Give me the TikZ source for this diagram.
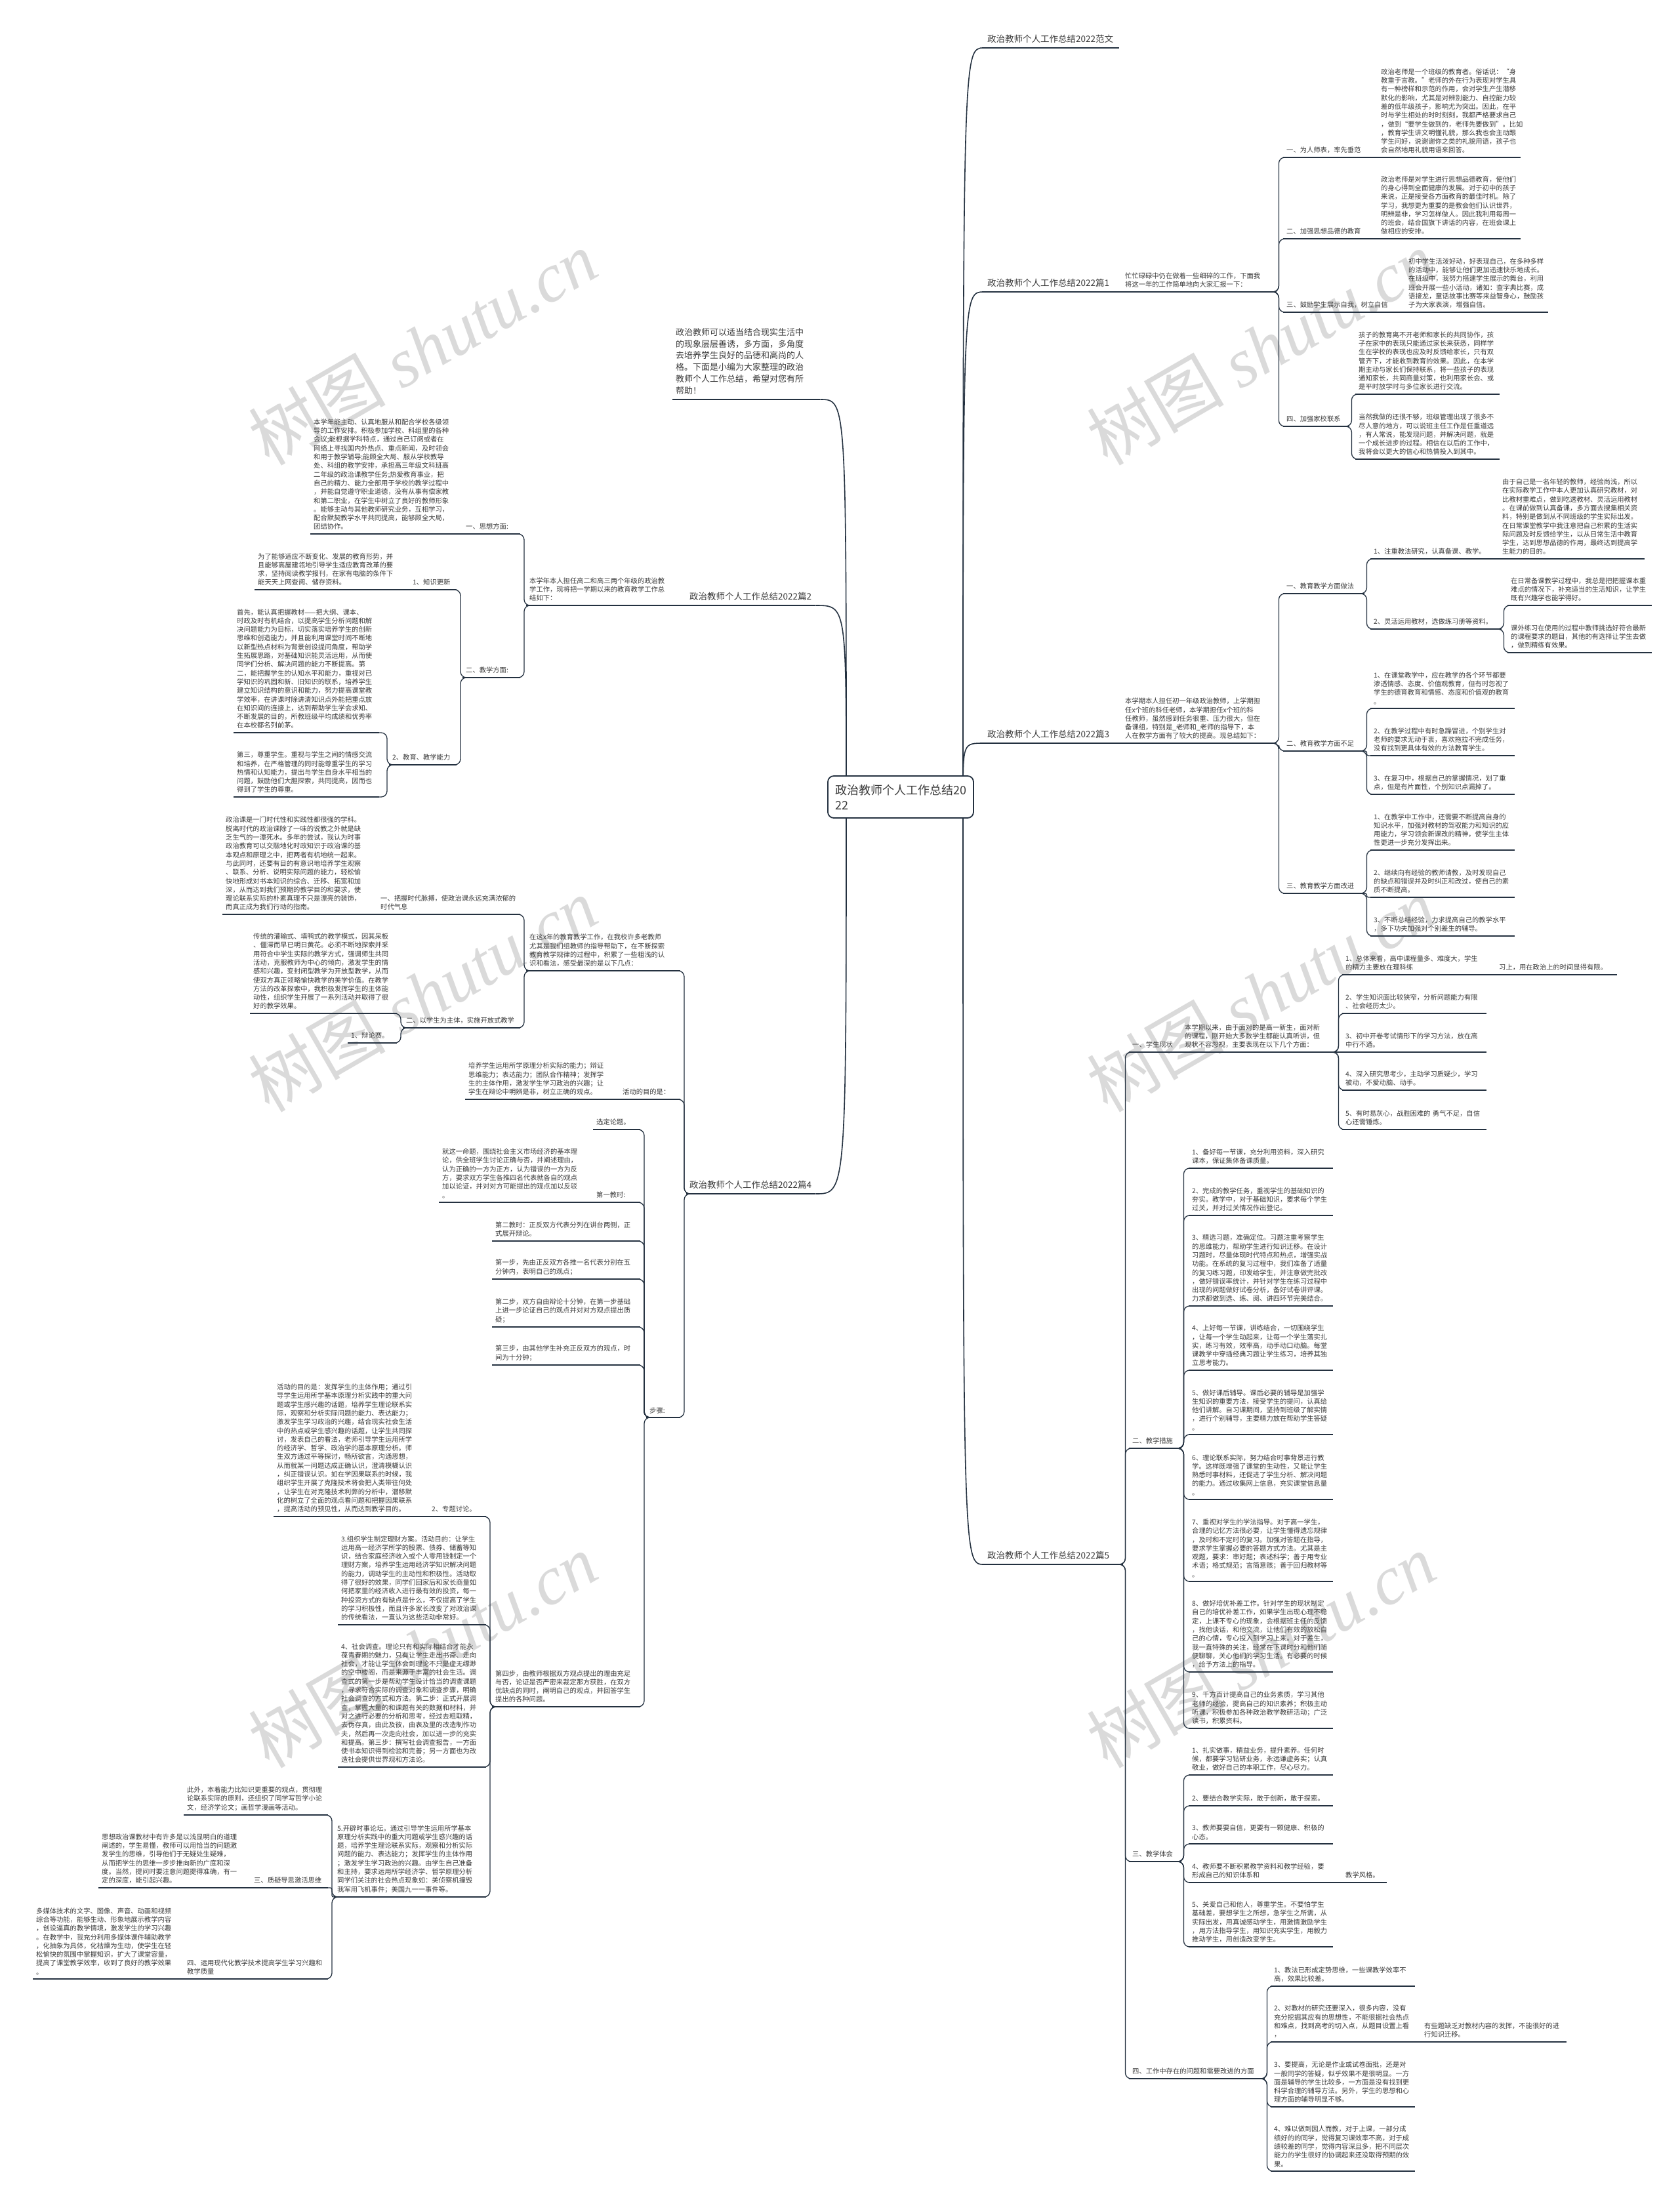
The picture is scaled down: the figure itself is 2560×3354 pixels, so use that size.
\documentclass[tikz,border=0pt]{standalone}
\usepackage{fontspec}
\setmainfont{Noto Sans CJK SC}
\newfontfamily\wmf{Liberation Serif}
\definecolor{linec}{HTML}{243140}
\definecolor{txtc}{HTML}{3A3A3A}
\definecolor{wmc}{HTML}{DADADA}
\newcommand\nd[6][bt]{\node[#1,text width=#5pt] (#2) at (#3,#4) {#6};}
\newcommand\rc[2]{\draw[conn] (#1.south east) to[rcp] (#2.south west);}
\newcommand\rcs[2]{\draw[conn,rounded corners=2.5pt] (#1.south east) to[rcp] (#2.south west);}
\newcommand\lc[2]{\draw[conn] (#1.south west) to[lcp] (#2.south east);}
\newcommand\lcs[2]{\draw[conn,rounded corners=2.5pt] (#1.south west) to[lcp] (#2.south east);}
\newcommand\st[2]{\draw[uln] (#1.south east) -- (#2.south west);}
\begin{document}
\begin{tikzpicture}[x=1pt,y=-1pt,
 bt/.style={anchor=south west,align=left,inner xsep=5pt,inner ysep=6pt,font=\fontsize{10.3}{13.3}\selectfont,text=txtc},
 bl/.style={bt,inner ysep=7pt,font=\fontsize{13.5}{17}\selectfont},
 bi/.style={bt,inner ysep=7.5pt,font=\fontsize{13}{17.8}\selectfont},
 uln/.style={draw=linec,line width=2pt},
 conn/.style={draw=linec,line width=1.3pt,rounded corners=9pt},
 topc/.style={draw=linec,line width=1.6pt},
 rcp/.style={to path={([xshift=-10pt]\tikztostart) -- ([xshift=3pt]\tikztostart) |- ([xshift=14pt]\tikztotarget)}},
 lcp/.style={to path={([xshift=10pt]\tikztostart) -- ([xshift=-3pt]\tikztostart) |- ([xshift=-14pt]\tikztotarget)}},
 wm/.style={rotate=30,text=wmc,font=\fontsize{105}{110}\selectfont,inner sep=0pt},
 rootn/.style={draw=linec,line width=1.8pt,fill=white,rounded corners=9pt,minimum width=222pt,minimum height=64pt,text width=200pt,align=left,inner xsep=11pt,font=\fontsize{18}{23}\selectfont,text=txtc}
]
\useasboundingbox (0,0) rectangle (2560,3354);
\fill[white] (0,0) rectangle (2560,3354);
% watermarks
\foreach \wx in {644,1922}{\foreach \wy in {530,1516,2516}{
 \node[wm] at (\wx,\wy) {树图 {\wmf\itshape shutu.cn}};}}
% ================= RIGHT SIDE =================
\nd[bl]{fw}{1500}{73}{196}{政治教师个人工作总结2022范文}
\nd[bl]{p1}{1500}{445}{196}{政治教师个人工作总结2022篇1}
\nd{i1}{1710}{445}{226}{忙忙碌碌中仍在做着一些细碎的工作，下面我\\将这一年的工作简单地向大家汇报一下：}
\nd{a1}{1956}{240}{134}{一、为人师表，率先垂范}
\nd{a1c}{2100}{240}{208}{政治老师是一个班级的教育者。俗话说：“身\\教重于言教。”老师的外在行为表现对学生具\\有一种榜样和示范的作用，会对学生产生潜移\\默化的影响，尤其是对辨别能力、自控能力较\\差的低年级孩子，影响尤为突出。因此，在平\\时与学生相处的时时刻刻，我都严格要求自己\\，做到“要学生做到的，老师先要做到”。比如\\，教育学生讲文明懂礼貌，那么我也会主动跟\\学生问好，说谢谢你之类的礼貌用语，孩子也\\会自然地用礼貌用语来回答。}
\nd{a2}{1956}{364}{134}{二、加强思想品德的教育}
\nd{a2c}{2100}{364}{208}{政治老师是对学生进行思想品德教育，使他们\\的身心得到全面健康的发展。对于初中的孩子\\来说，正是接受各方面教育的最佳时机。除了\\学习，我想更为重要的是教会他们认识世界，\\明辨是非，学习怎样做人。因此我利用每周一\\的班会，结合国旗下讲话的内容，在班会课上\\做相应的安排。}
\nd{a3}{1956}{476}{176}{三、鼓励学生展示自我，树立自信}
\nd{a3c}{2142}{476}{208}{初中学生活泼好动，好表现自己，在多种多样\\的活动中，能够让他们更加迅速快乐地成长。\\在班级中，我努力搭建学生展示的舞台，利用\\班会开展一些小活动，诸如：查字典比赛，成\\语接龙，童话故事比赛等来益智身心，鼓励孩\\子为大家表演，增强自信。}
\nd{a4}{1956}{650}{91}{四、加强家校联系}
\nd{a4c1}{2066}{601}{210}{孩子的教育离不开老师和家长的共同协作，孩\\子在家中的表现只能通过家长来获悉，同样学\\生在学校的表现也应及时反馈给家长，只有双\\管齐下，才能收到教育的效果。因此，在本学\\期主动与家长们保持联系，将一些孩子的表现\\通知家长，共同商量对策，也利用家长会、或\\是平时放学时与多位家长进行交流。}
\nd{a4c2}{2066}{700}{210}{当然我做的还很不够，班级管理出现了很多不\\尽人意的地方，可以说班主任工作是任重道远\\，有人常说，能发现问题，并解决问题，就是\\一个成长进步的过程。相信在以后的工作中，\\我将会以更大的信心和热情投入到其中。}
\nd[bl]{p3}{1500}{1133}{196}{政治教师个人工作总结2022篇3}
\nd{i3}{1710}{1133}{226}{本学期本人担任初一年级政治教师，上学期担\\任x个班的科任老师，本学期担任x个班的科\\任教师，虽然感到任务很重、压力很大，但在\\备课组，特别是\_老师和\_老师的指导下，本\\人在教学方面有了较大的提高。现总结如下：}
\nd{b1}{1956}{905}{114}{一、教育教学方面做法}
\nd{b1a}{2089}{852}{186}{1、注重教法研究，认真备课、教学。}
\nd{b1ac}{2285}{852}{212}{由于自己是一名年轻的教师，经验尚浅，所以\\在实际教学工作中本人更加认真研究教材，对\\比教材重难点，做到吃透教材、灵活运用教材\\。在课前做到认真备课，多方面去搜集相关资\\料，特别是做到从不同班级的学生实际出发。\\在日常课堂教学中我注意把自己积累的生活实\\际问题及时反馈给学生，以从日常生活中教育\\学生，达到思想品德的作用，最终达到提高学\\生能力的目的。}
\nd{b1b}{2089}{959}{190}{2、灵活运用教材，选做练习册等资料。}
\nd{b1b1}{2298}{923}{210}{在日常备课教学过程中，我总是把把握课本重\\难点的情况下，补充适当的生活知识，让学生\\既有兴趣学也能学得好。}
\nd{b1b2}{2298}{995}{210}{课外练习在使用的过程中教师挑选好符合最新\\的课程要求的题目，其他的有选择让学生去做\\，做到精练有效果。}
\nd{b2}{1956}{1145}{114}{二、教育教学方面不足}
\nd{b2a}{2089}{1080}{210}{1、在课堂教学中，应在教学的各个环节都要\\渗透情感、态度、价值观教育，但有时忽视了\\学生的德育教育和情感、态度和价值观的教育\\。}
\nd{b2b}{2089}{1152}{210}{2、在教学过程中有时急躁冒进，个别学生对\\老师的要求无动于衷，喜欢拖拉不完成任务，\\没有找到更具体有效的方法教育学生。}
\nd{b2c}{2089}{1211}{210}{3、在复习中，根据自己的掌握情况，划了重\\点，但是有片面性，个别知识点漏掉了。}
\nd{b3}{1956}{1362}{114}{三、教育教学方面改进}
\nd{b3a}{2089}{1296}{210}{1、在教学中工作中，还需要不断提高自身的\\知识水平，加强对教材的驾驭能力和知识的应\\用能力，学习领会新课改的精神，使学生主体\\性更进一步充分发挥出来。}
\nd{b3b}{2089}{1368}{210}{2、继续向有经验的教师请教，及时发现自己\\的缺点和错误并及时纠正和改过，使自己的素\\质不断提高。}
\nd{b3c}{2089}{1427}{210}{3、不断总结经验，力求提高自己的教学水平\\，多下功夫加强对个别差生的辅导。}
\nd[bl]{p5}{1500}{2385}{202}{政治教师个人工作总结2022篇5}
\nd{c1}{1721}{1604}{70}{一、学生现状}
\nd{c1i}{1801}{1604}{226}{本学期以来，由于面对的是高一新生，面对新\\的课程，刚开始大多数学生都能认真听讲，但\\现状不容忽视，主要表现在以下几个方面：}
\nd{c1a}{2046}{1486}{210}{1、总体来看，高中课程量多、难度大，学生\\的精力主要放在理科练}
\nd{c1a2}{2280}{1486}{175}{习上，用在政治上的时间显得有限。}
\nd{c1b}{2046}{1545}{210}{2、学生知识面比较狭窄，分析问题能力有限\\、社会经历太少。}
\nd{c1c}{2046}{1604}{210}{3、初中开卷考试情形下的学习方法，放在高\\中行不通。}
\nd{c1d}{2046}{1662}{210}{4、深入研究思考少，主动学习质疑少，学习\\被动，不爱动脑、动手。}
\nd{c1e}{2046}{1722}{210}{5、有时易灰心，战胜困难的 勇气不足，自信\\心还需锤炼。}
\nd{c2}{1721}{2208}{70}{二、教学措施}
\nd{c2a}{1812}{1781}{210}{1、备好每一节课，充分利用资料，深入研究\\课本，保证集体备课质量。}
\nd{c2b}{1812}{1853}{210}{2、完成的教学任务，重视学生的基础知识的\\夯实。教学中，对于基础知识，要求每个学生\\过关，并对过关情况作出登记。}
\nd{c2c}{1812}{1991}{210}{3、精选习题，准确定位。习题注重考察学生\\的思维能力，帮助学生进行知识迁移。在设计\\习题时，尽量体现时代特点和热点，增强实战\\功能。在系统的复习过程中，我们准备了适量\\的复习练习题，印发给学生，并注意做完批改\\，做好错误率统计，并针对学生在练习过程中\\出现的问题做好试卷分析，备好试卷讲评课。\\力求都做到选、练、阅、讲四环节完美结合。}
\nd{c2d}{1812}{2089}{210}{4、上好每一节课，讲练结合，一切围绕学生\\，让每一个学生动起来，让每一个学生落实扎\\实，练习有效，效率高，动手动口动脑。每堂\\课教学中穿插经典习题让学生练习，培养其独\\立思考能力。}
\nd{c2e}{1812}{2187}{210}{5、做好课后辅导。课后必要的辅导是加强学\\生知识的重要方法，接受学生的提问，认真给\\他们讲解。自习课期间，坚持到班级了解实情\\，进行个别辅导，主要精力放在帮助学生答疑\\。}
\nd{c2f}{1812}{2286}{210}{6、理论联系实际，努力结合时事背景进行教\\学。这样既增强了课堂的生动性，又能让学生\\熟悉时事材料，还促进了学生分析、解决问题\\的能力。通过收集网上信息，充实课堂信息量\\。}
\nd{c2g}{1812}{2411}{210}{7、重视对学生的学法指导。对于高一学生，\\合理的记忆方法很必要，让学生懂得遗忘规律\\，及时和不定时的复习。加强对答题在指导，\\要求学生掌握必要的答题方式方法。尤其是主\\观题，要求：审好题；表述科学；善于用专业\\术语；格式规范；言简意赅；善于回归教材等\\。}
\nd{c2h}{1812}{2549}{210}{8、做好培优补差工作。针对学生的现状制定\\自己的培优补差工作，如果学生出现心理不稳\\定，上课不专心的现象，会根据班主任的反馈\\，找他谈话，和他交流，让他们有效的放松自\\己的心情，专心投入到学习上来。对于差生，\\我一直特殊的关注，经常在下课时分和他们随\\便聊聊，关心他们的学习生活。有必要的时候\\，给予方法上的指导。}
\nd{c2i}{1812}{2635}{210}{9、千方百计提高自己的业务素质，学习其他\\老师的经验，提高自己的知识素养；积极主动\\听课，积极参加各种政治教学教研活动；广泛\\读书，积累资料。}
\nd{c3}{1721}{2838}{70}{三、教学体会}
\nd{c3a}{1812}{2706}{210}{1、扎实做事，精益业务，提升素养。任何时\\候，都要学习钻研业务，永远谦虚务实；认真\\敬业，做好自己的本职工作，尽心尽力。}
\nd{c3b}{1812}{2753}{210}{2、要结合教学实际，敢于创新，敢于探索。}
\nd{c3c}{1812}{2811}{210}{3、教师要要自信，更要有一颗健康、积极的\\心态。}
\nd{c3d}{1812}{2870}{210}{4、教师要不断积累教学资料和教学经验，要\\形成自己的知识体系和}
\nd{c3d2}{2046}{2870}{58}{教学风格。}
\nd{c3e}{1812}{2968}{210}{5、关爱自己和他人，尊重学生。不要怕学生\\基础差，要想学生之所想，急学生之所需，从\\实际出发，用真诚感动学生，用激情激励学生\\，用方法指导学生，用知识充实学生，用毅力\\推动学生，用创造改变学生。}
\nd{c4}{1721}{3169}{197}{四、工作中存在的问题和需要改进的方面}
\nd{c4a}{1937}{3028}{210}{1、教法已形成定势思维，一些课教学效率不\\高，效果比较差。}
\nd{c4b}{1937}{3113}{210}{2、对教材的研究还要深入，很多内容，没有\\充分挖掘其应有的思想性，不能很据社会热点\\和难点，找到高考的切入点，从题目设置上看\\，}
\nd{c4b2}{2166}{3113}{212}{有些题缺乏对教材内容的发挥，不能很好的进\\行知识迁移。}
\nd{c4c}{1937}{3212}{210}{3、要提高，无论是作业或试卷面批，还是对\\一般同学的答疑，似乎效果不是很明显。一方\\面是辅导的学生比较多，一方面是没有找到更\\科学合理的辅导方法。另外，学生的思想和心\\理方面的辅导明显不够。}
\nd{c4d}{1937}{3310}{210}{4、难以做到因人而教，对于上课，一部分成\\绩好的的同学，觉得复习课效率不高，对于成\\绩较差的同学，觉得内容深且多，把不同层次\\能力的学生很好的协调起来还没取得预期的效\\果。}
% ================= LEFT SIDE =================
\nd[bi]{ci}{1025}{609}{215}{政治教师可以适当结合现实生活中\\的现象层层善诱，多方面，多角度\\去培养学生良好的品德和高尚的人\\格。下面是小编为大家整理的政治\\教师个人工作总结，希望对您有所\\帮助！}
\nd[bl]{p2}{1046}{923}{187}{政治教师个人工作总结2022篇2}
\nd{i2}{802}{923}{215}{本学年本人担任高二和高三两个年级的政治教\\学工作，现将把一学期以来的教育教学工作总\\结如下：}
\nd{d1}{705}{814}{78}{一、思想方面:}
\nd{d1c}{473}{814}{207}{本学年能主动、认真地服从和配合学校各级领\\导的工作安排。积极参加学校、科组里的各种\\会议;能根据学科特点，通过自己订阅或者在\\网络上寻找国内外热点、重点新闻，及时领会\\和用于教学辅导;能顾全大局、服从学校教导\\处、科组的教学安排，承担高三年级文科班高\\二年级的政治课教学任务;热爱教育事业，把\\自己的精力、能力全部用于学校的教学过程中\\，并能自觉遵守职业道德，没有从事有偿家教\\和第二职业，在学生中树立了良好的教师形象\\。能够主动与其他教师研究业务，互相学习，\\配合默契教学水平共同提高，能够顾全大局，\\团结协作。}
\nd{d2}{705}{1033}{78}{二、教学方面:}
\nd{e1}{624}{899}{62}{1、知识更新}
\nd{e1c}{388}{899}{207}{为了能够适应不断变化、发展的教育形势，并\\且能够高屋建瓴地引导学生适应教育改革的要\\求，坚持阅读教学报刊，在家有电脑的条件下\\能天天上网查阅、储存资料。}
\nd{e2}{593}{1166}{93}{2、教育、教学能力}
\nd{e2a}{356}{1117}{212}{首先，能认真把握教材——把大纲、课本、\\时政及时有机结合，以提高学生分析问题和解\\决问题能力为目标，切实落实培养学生的创新\\思维和创造能力，并且能利用课堂时间不断地\\以新型热点材料为背景创设提问角度，帮助学\\生拓展思路，对基础知识能灵活运用，从而使\\同学们分析、解决问题的能力不断提高。第\\二，能把握学生的认知水平和能力，重视对已\\学知识的巩固和新、旧知识的联系，培养学生\\建立知识结构的意识和能力，努力提高课堂教\\学效率，在讲课时除讲清知识点外能把重点放\\在知识间的连接上，达到帮助学生学会求知、\\不断发展的目的，所教班级平均成绩和优秀率\\在本校都名列前茅。}
\nd{e2b}{356}{1215}{212}{第三，尊重学生。重视与学生之间的情感交流\\和培养，在严格管理的同时能尊重学生的学习\\热情和认知能力，提出与学生自身水平相当的\\问题，鼓励他们大胆探索，共同提高，因而也\\得到了学生的尊重。}
\nd[bl]{p4}{1046}{1820}{187}{政治教师个人工作总结2022篇4}
\nd{f0}{802}{1480}{225}{在这x年的教育教学工作，在我校许多老教师\\尤其是我们组教师的指导帮助下，在不断探索\\教育教学规律的过程中，积累了一些粗浅的认\\识和看法，感受最深的是以下几点：}
\nd{g1}{575}{1394}{208}{一、把握时代脉搏，使政治课永远充满浓郁的\\时代气息}
\nd{g1c}{339}{1394}{226}{政治课是一门时代性和实践性都很强的学科。\\脱离时代的政治课除了一味的说教之外就是缺\\乏生气的一潭死水。多年的尝试，我认为时事\\政治教育可以交融地化时政知识于政治课的基\\本观点和原理之中，把两者有机地统一起来。\\与此同时，还要有目的有意识地培养学生观察\\、联系、分析、说明实际问题的能力，轻松愉\\快地形成对书本知识的综合、迁移、拓宽和加\\深，从而达到我们预期的教学目的和要求，使\\理论联系实际的朴素真理不只是漂亮的装饰，\\而真正成为我们行动的指南。}
\nd{g2}{614}{1567}{169}{二、以学生为主体，实施开放式教学}
\nd{g2c}{381}{1545}{214}{传统的灌输式、填鸭式的教学模式，因其呆板\\、僵滞而早已明日黄花。必须不断地探索并采\\用符合中学生实际的教学方式，强调师生共同\\活动，克服教师为中心的倾向，激发学生的情\\感和兴趣，变封闭型教学为开放型教学，从而\\使双方真正领略愉快教学的美学价值。在教学\\方法的改革探索中，我积极发挥学生的主体能\\动性，组织学生开展了一系列活动并取得了很\\好的教学效果。}
\nd{g2d}{530}{1590}{65}{1、辩论赛。}
\nd{h1}{944}{1676}{83}{活动的目的是：}
\nd{h1c}{709}{1676}{225}{培养学生运用所学原理分析实际的能力；辩证\\思维能力；表达能力；团队合作精神；发挥学\\生的主体作用，激发学生学习政治的兴趣；让\\学生在辩论中明辨是非，树立正确的观点。}
\nd{k}{985}{2161}{42}{步骤:}
\nd{k1}{904}{1722}{62}{选定论题。}
\nd{k2}{904}{1833}{62}{第一教时:}
\nd{k2c}{669}{1833}{225}{就这一命题，围绕社会主义市场经济的基本理\\论，供全班学生讨论正确与否，并阐述理由，\\认为正确的一方为正方，认为错误的一方为反\\方，要求双方学生各推四名代表就各自的观点\\加以论证，并对对方可能提出的观点加以反驳\\。}
\nd{k3}{750}{1892}{216}{第二教时：正反双方代表分列在讲台两侧，正\\式展开辩论。}
\nd{k4}{750}{1950}{216}{第一步，先由正反双方各推一名代表分别在五\\分钟内，表明自己的观点；}
\nd{k5}{750}{2023}{216}{第二步，双方自由辩论十分钟，在第一步基础\\上进一步论证自己的观点并对对方观点提出质\\疑；}
\nd{k6}{750}{2081}{216}{第三步，由其他学生补充正反双方的观点，时\\间为十分钟；}
\nd{k7}{750}{2602}{216}{第四步，由教师根据双方观点提出的理由充足\\与否，论证是否严密来裁定那方获胜，在双方\\优缺点的同时，阐明自己的观点，并回答学生\\提出的各种问题。}
\nd{m2}{653}{2312}{78}{2、专题讨论。}
\nd{m2c}{417}{2312}{226}{活动的目的是：发挥学生的主体作用；通过引\\导学生运用所学基本原理分析实践中的重大问\\题或学生感兴趣的话题，培养学生理论联系实\\际，观察和分析实际问题的能力、表达能力；\\激发学生学习政治的兴趣，结合现实社会生活\\中的热点或学生感兴趣的话题，让学生共同探\\讨，发表自己的看法，老师引导学生运用所学\\的经济学、哲学、政治学的基本原理分析。师\\生双方通过平等探讨，畅所欲言，沟通思想，\\从而就某一问题达成正确认识，澄清模糊认识\\，纠正错误认识。如在学因果联系的时候，我\\组织学生开展了克隆技术将会把人类带往何处\\，让学生在对克隆技术利弊的分析中，潜移默\\化的树立了全面的观点看问题和把握因果联系\\，提高活动的预见性，从而达到教学目的。}
\nd{m3}{515}{2477}{216}{3.组织学生制定理财方案。活动目的：让学生\\运用高一经济学所学的股票、债券、储蓄等知\\识，结合家庭经济收入或个人零用钱制定一个\\理财方案，培养学生运用经济学知识解决问题\\的能力，调动学生的主动性和积极性。活动取\\得了很好的效果，同学们回家后和家长商量如\\何把家里的经济收入进行最有效的投资，每一\\种投资方式的有缺点是什么，不仅提高了学生\\的学习积极性，而且许多家长改变了对政治课\\的传统看法，一直认为这些活动非常好。}
\nd{m4}{515}{2694}{216}{4、社会调查。理论只有和实际相结合才能永\\葆青春期的魅力，只有让学生走出书斋、走向\\社会，才能让学生体会到理论不只是虚无缥渺\\的空中楼阁，而是来源于丰富的社会生活。调\\查式的第一步是帮助学生设计恰当的调查课题\\，寻求符合实际的调查对象和调查步骤，明确\\社会调查的方式和方法。第二步：正式开展调\\查，掌握大量的和课题有关的数据和材料，并\\对之进行必要的分析和思考，经过去粗取精，\\去伪存真，由此及彼，由表及里的改造制作功\\夫，然后再一次走向社会，加以进一步的充实\\和提高。第三步：撰写社会调查报告，一方面\\使书本知识得到检验和完善；另一方面也为改\\造社会提供世界观和方法论。}
\nd{m5}{509}{2892}{222}{5.开辟时事论坛。通过引导学生运用所学基本\\原理分析实践中的重大问题或学生感兴趣的话\\题，培养学生理论联系实际，观察和分析实际\\问题的能力、表达能力；发挥学生的主体作用\\；激发学生学习政治的兴趣。由学生自己准备\\和主持，要求运用所学经济学、哲学原理分析\\同学们关注的社会热点现象如：美侦察机撞毁\\我军用飞机事件；美国九一一事件等。}
\nd{n1}{280}{2767}{210}{此外，本着能力比知识更重要的观点，贯彻理\\论联系实际的原则，还组织了同学写哲学小论\\文，经济学论文；画哲学漫画等活动。}
\nd{n2}{382}{2878}{108}{三、质疑导思激活思维}
\nd{n2c}{150}{2878}{222}{思想政治课教材中有许多是以浅显明白的道理\\阐述的，学生易懂，教师可以用恰当的问题激\\发学生的思维，引导他们于无疑处生疑难，\\从而把学生的思维一步步推向新的广度和深\\度。当然，提问时要注意问题提得准确，有一\\定的深度，能引起兴趣。}
\nd{n3}{280}{3017}{210}{四、运用现代化教学技术提高学生学习兴趣和\\教学质量}
\nd{n3c}{50}{3017}{220}{多媒体技术的文字、图像、声音、动画和视频\\综合等功能，能够生动、形象地展示教学内容\\，创设逼真的教学情境，激发学生的学习兴趣\\。在教学中，我充分利用多媒体课件辅助教学\\，化抽象为具体，化枯燥为生动，使学生在轻\\松愉快的氛围中掌握知识，扩大了课堂容量，\\提高了课堂教学效率，收到了良好的教学效果\\。}
% ================= UNDERLINES =================
\foreach \n in {fw,p1,i1,a1,a1c,a2,a2c,a3,a3c,a4,a4c1,a4c2,p3,i3,b1,b1a,b1ac,b1b,b1b1,b1b2,b2,b2a,b2b,b2c,b3,b3a,b3b,b3c,p5,c1,c1i,c1a,c1a2,c1b,c1c,c1d,c1e,c2,c2a,c2b,c2c,c2d,c2e,c2f,c2g,c2h,c2i,c3,c3a,c3b,c3c,c3d,c3d2,c3e,c4,c4a,c4b,c4b2,c4c,c4d,ci,p2,i2,d1,d1c,d2,e1,e1c,e2,e2a,e2b,p4,f0,g1,g1c,g2,g2c,g2d,h1,h1c,k,k1,k2,k2c,k3,k4,k5,k6,k7,m2,m2c,m3,m4,m5,n1,n2,n2c,n3,n3c}
 {\draw[uln] (\n.south west) -- (\n.south east);}
% ================= CONNECTORS =================
\st{p1}{i1} \st{p3}{i3} \st{a1}{a1c} \st{a2}{a2c} \st{a3}{a3c}
\st{b1a}{b1ac} \st{c1}{c1i} \st{c1i}{c1c} \st{c1a}{c1a2} \st{c3d}{c3d2} \st{c4b}{c4b2}
\st{i2}{p2} \st{d1c}{d1} \st{e1c}{e1} \st{g1c}{g1} \st{h1c}{h1} \st{k2c}{k2}
\st{m2c}{m2} \st{n2c}{n2} \st{n3c}{n3}
\rc{i1}{a1} \rc{i1}{a2} \rc{i1}{a3} \rc{i1}{a4}
\rc{a4}{a4c1} \rc{a4}{a4c2}
\rc{i3}{b1} \rc{i3}{b2} \rc{i3}{b3}
\rc{b1}{b1a} \rc{b1}{b1b} \rc{b1b}{b1b1} \rc{b1b}{b1b2}
\rc{b2}{b2a} \rcs{b2}{b2b} \rc{b2}{b2c}
\rc{b3}{b3a} \rcs{b3}{b3b} \rc{b3}{b3c}
\rc{p5}{c1} \rc{p5}{c2} \rc{p5}{c3} \rc{p5}{c4}
\rc{c1i}{c1a} \rc{c1i}{c1b} \rc{c1i}{c1d} \rc{c1i}{c1e}
\foreach \n in {c2a,c2b,c2c,c2d,c2e,c2f,c2g,c2h,c2i}{\rc{c2}{\n}}
\foreach \n in {c3a,c3b,c3c,c3d,c3e}{\rc{c3}{\n}}
\foreach \n in {c4a,c4b,c4c,c4d}{\rc{c4}{\n}}
\lc{i2}{d1} \lc{i2}{d2} \lc{d2}{e1} \lc{d2}{e2} \lc{e2}{e2a} \lc{e2}{e2b}
\lc{p4}{f0} \lc{p4}{h1} \lc{p4}{k}
\lc{f0}{g1} \lc{f0}{g2} \lc{g2}{g2c} \lc{g2}{g2d}
\foreach \n in {k1,k2,k3,k4,k5,k6,k7}{\lc{k}{\n}}
\foreach \n in {m2,m3,m4,m5}{\lc{k7}{\n}}
\lc{m5}{n1} \lcs{m5}{n2} \lc{m5}{n3}
% ================= ROOT =================
\coordinate (rootL) at (1290,1215);
\coordinate (rootR) at (1468,1215);
\foreach \n in {fw,p1,p3,p5}{\draw[topc] (rootR) .. controls (rootR |- \n.south west) .. (\n.south west);}
\foreach \n in {ci,p2,p4}{\draw[topc] (rootL) .. controls (rootL |- \n.south east) .. (\n.south east);}
\node[rootn] (root) at (1373,1215) {政治教师个人工作总结20\\22};
\end{tikzpicture}
\end{document}
